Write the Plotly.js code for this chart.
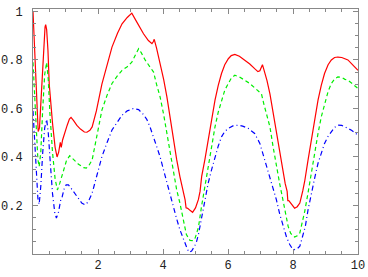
<!DOCTYPE html>
<html>
<head>
<meta charset="utf-8">
<script src="https://cdn.plot.ly/plotly-3.0.1.min.js"></script>
<style>html,body{margin:0;padding:0;background:#fff;}#chart{width:368px;height:277px;}</style>
</head>
<body>
<div id="chart"></div>
<script>
const redX = [0,0.03,0.08,0.12,0.16,0.2,0.27,0.32,0.37,0.39,0.42,0.46,0.5,0.6,0.68,0.74,0.79,0.84,0.87,0.91,0.93,0.98,1.05,1.12,1.17,1.25,1.35,1.46,1.58,1.66,1.75,1.82,1.95,2.12,2.28,2.43,2.6,2.74,2.9,3.04,3.2,3.4,3.55,3.66,3.7,3.73,3.8,3.91,4.02,4.12,4.22,4.32,4.42,4.52,4.6,4.68,4.71,4.76,4.83,4.91,5.0,5.09,5.14,5.19,5.29,5.39,5.5,5.6,5.7,5.8,5.9,6.01,6.1,6.21,6.35,6.52,6.67,6.82,6.92,6.98,7.03,7.06,7.1,7.2,7.29,7.39,7.49,7.59,7.69,7.76,7.82,7.84,7.87,7.92,7.98,8.05,8.13,8.21,8.3,8.36,8.46,8.56,8.67,8.77,8.87,8.97,9.08,9.18,9.28,9.38,9.5,9.6,9.69,9.8,9.9,10];
const redY = [1.0,0.9,0.7,0.57,0.505,0.52,0.68,0.84,0.935,0.946,0.925,0.84,0.70,0.54,0.44,0.40,0.42,0.46,0.44,0.47,0.48,0.50,0.53,0.556,0.563,0.55,0.53,0.515,0.503,0.502,0.51,0.524,0.59,0.70,0.78,0.853,0.91,0.949,0.975,0.993,0.955,0.908,0.88,0.867,0.875,0.885,0.85,0.79,0.72,0.648,0.56,0.47,0.39,0.319,0.27,0.223,0.19,0.188,0.18,0.172,0.19,0.225,0.258,0.32,0.39,0.47,0.555,0.634,0.695,0.744,0.78,0.805,0.818,0.823,0.815,0.798,0.783,0.764,0.752,0.755,0.77,0.78,0.762,0.715,0.66,0.58,0.497,0.415,0.333,0.29,0.258,0.22,0.22,0.21,0.198,0.189,0.195,0.21,0.26,0.30,0.385,0.47,0.555,0.634,0.695,0.744,0.78,0.80,0.81,0.812,0.81,0.803,0.80,0.785,0.772,0.757];

const greenX = [0,0.04,0.1,0.15,0.19,0.24,0.3,0.36,0.42,0.47,0.52,0.6,0.68,0.75,0.82,0.9,0.95,1.03,1.13,1.25,1.4,1.56,1.64,1.72,1.82,1.97,2.12,2.28,2.43,2.6,2.74,2.9,3.04,3.15,3.25,3.33,3.45,3.6,3.71,3.8,3.91,4.02,4.12,4.22,4.32,4.42,4.52,4.6,4.65,4.72,4.83,4.92,4.98,5.09,5.19,5.29,5.39,5.5,5.6,5.7,5.8,5.9,6.01,6.1,6.21,6.35,6.52,6.67,6.82,6.95,7.03,7.1,7.2,7.29,7.39,7.49,7.59,7.69,7.77,7.85,7.93,8.05,8.13,8.21,8.3,8.36,8.46,8.56,8.67,8.77,8.87,8.97,9.08,9.18,9.28,9.38,9.5,9.6,9.69,9.8,9.9,10];
const greenY = [0.79,0.68,0.5,0.39,0.36,0.42,0.6,0.74,0.79,0.72,0.58,0.42,0.31,0.264,0.29,0.325,0.35,0.385,0.405,0.39,0.37,0.356,0.354,0.365,0.388,0.49,0.593,0.655,0.703,0.735,0.757,0.772,0.791,0.82,0.846,0.83,0.80,0.771,0.75,0.70,0.648,0.575,0.497,0.415,0.333,0.265,0.21,0.16,0.114,0.08,0.056,0.055,0.062,0.11,0.2,0.28,0.36,0.445,0.524,0.585,0.634,0.675,0.703,0.725,0.737,0.73,0.716,0.703,0.685,0.67,0.66,0.62,0.57,0.524,0.44,0.36,0.29,0.223,0.17,0.114,0.085,0.07,0.075,0.087,0.14,0.175,0.25,0.333,0.42,0.497,0.565,0.62,0.67,0.703,0.722,0.73,0.728,0.72,0.716,0.705,0.695,0.682];

const blueX = [0,0.04,0.1,0.15,0.19,0.24,0.3,0.36,0.42,0.47,0.53,0.6,0.67,0.72,0.78,0.85,0.9,0.96,1.02,1.09,1.15,1.25,1.4,1.5,1.6,1.7,1.82,1.97,2.12,2.28,2.43,2.6,2.74,2.9,3.09,3.25,3.4,3.5,3.6,3.75,3.91,4.02,4.12,4.22,4.32,4.42,4.52,4.6,4.68,4.75,4.81,4.88,4.94,5.02,5.09,5.19,5.29,5.39,5.5,5.6,5.7,5.8,5.9,6.01,6.15,6.31,6.45,6.62,6.82,6.98,7.1,7.2,7.29,7.39,7.49,7.59,7.69,7.8,7.9,7.98,8.05,8.13,8.21,8.3,8.38,8.46,8.56,8.67,8.77,8.87,8.97,9.08,9.18,9.28,9.38,9.5,9.6,9.69,9.8,9.9,10];
const blueY = [0.59,0.48,0.32,0.23,0.205,0.28,0.42,0.52,0.555,0.5,0.38,0.25,0.17,0.148,0.17,0.22,0.237,0.27,0.285,0.285,0.275,0.255,0.225,0.21,0.203,0.215,0.251,0.33,0.401,0.46,0.511,0.545,0.572,0.59,0.60,0.595,0.575,0.555,0.524,0.465,0.401,0.345,0.292,0.24,0.196,0.145,0.10,0.07,0.046,0.02,0.007,0.012,0.025,0.045,0.08,0.155,0.225,0.292,0.35,0.401,0.445,0.483,0.505,0.518,0.528,0.531,0.527,0.518,0.497,0.456,0.4,0.36,0.319,0.27,0.223,0.165,0.114,0.07,0.039,0.022,0.018,0.022,0.032,0.07,0.114,0.18,0.251,0.315,0.374,0.42,0.456,0.485,0.505,0.522,0.531,0.53,0.524,0.518,0.51,0.5,0.49];

const xTicks = [2,4,6,8,10];
const xTickText = ["2","4","6","8","10"];
const yTicks = [0.2,0.4,0.6,0.8,1];
const yTickText = ["0.2","0.4","0.6","0.8","1"];

const traces = [
  {x: redX, y: redY, mode: 'lines', line: {color: '#ff0000', width: 1.2}},
  {x: greenX, y: greenY, mode: 'lines', line: {color: '#00ee00', width: 1.2, dash: '4px,3px'}},
  {x: blueX, y: blueY, mode: 'lines', line: {color: '#0000ff', width: 1.2, dash: '5px,3px,1px,3px'}}
];

const axisCommon = {
  showgrid: false, zeroline: false, showline: true, linecolor: '#888', linewidth: 1,
  mirror: 'ticks', ticks: 'inside', ticklen: 5, tickcolor: '#888', tickwidth: 1,
  tickfont: {family: 'Liberation Mono, Courier New, monospace', size: 12, color: '#222'}
};

const layout = {
  width: 368, height: 277,
  margin: {l: 32.5, r: 9.5, t: 9, b: 22.6},
  paper_bgcolor: '#fff', plot_bgcolor: '#fff',
  showlegend: false,
  xaxis: Object.assign({}, axisCommon, {
    range: [0, 10], tickmode: 'array', tickvals: xTicks, ticktext: xTickText,
    minor: {dtick: 0.5, tick0: 0, ticks: 'inside', ticklen: 3, tickcolor: '#888'}
  }),
  yaxis: Object.assign({}, axisCommon, {
    range: [0, 1.01], tickmode: 'array', tickvals: yTicks, ticktext: yTickText,
    ticklabelstandoff: 7,
    minor: {dtick: 0.05, tick0: 0, ticks: 'inside', ticklen: 3, tickcolor: '#888'}
  })
};

Plotly.newPlot('chart', traces, layout, {staticPlot: true, displayModeBar: false});
</script>
</body>
</html>
